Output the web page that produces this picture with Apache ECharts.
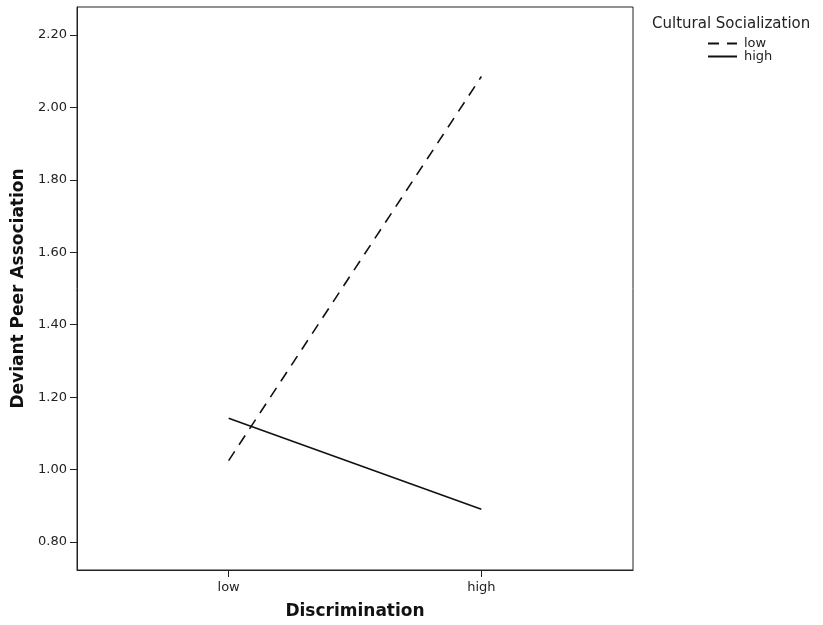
<!DOCTYPE html>
<html>
<head>
<meta charset="utf-8">
<script src="https://cdn.jsdelivr.net/npm/echarts@6/dist/echarts.min.js"></script>
<style>
html,body{margin:0;padding:0;background:#fff;}
#chart{width:823px;height:625px;}
</style>
</head>
<body>
<div id="chart"></div>
<script>
const categories = ['low', 'high'];
const seriesNames = ['low', 'high'];
const lowSocialization = [1.025, 2.085];
const highSocialization = [1.142, 0.891];
const yTicks = [0.80, 1.00, 1.20, 1.40, 1.60, 1.80, 2.00, 2.20];

const chart = echarts.init(document.getElementById('chart'));
const toPoints = arr => arr.map((v, i) => [i, v]);
const font = '"DejaVu Sans", "Liberation Sans", sans-serif';

chart.setOption({
  animation: false,
  title: {
    text: 'Cultural Socialization',
    left: 647, top: 12,
    textStyle: { fontFamily: font, fontSize: 15, fontWeight: 'normal', color: '#222' }
  },
  legend: {
    orient: 'vertical',
    left: 702, top: 32,
    itemWidth: 29, itemHeight: 10, itemGap: 0,
    data: seriesNames,
    itemStyle: { opacity: 0 },
    textStyle: { fontFamily: font, fontSize: 13, lineHeight: 12, color: '#222', padding: [0, 0, 0, 2] }
  },
  grid: {
    left: 77, right: 190, top: 7, bottom: 54,
    show: true, borderColor: '#222', borderWidth: 1
  },
  xAxis: {
    type: 'value',
    min: -0.6, max: 1.6,
    name: 'Discrimination',
    nameLocation: 'middle', nameGap: 33,
    nameTextStyle: { fontFamily: font, fontSize: 17, fontWeight: 'bold', color: '#111' },
    axisLine: { show: true, onZero: false, lineStyle: { color: '#222' } },
    splitLine: { show: false },
    axisTick: { show: true, customValues: [0, 1], length: 7, lineStyle: { color: '#222' } },
    axisLabel: {
      customValues: [0, 1], margin: 11,
      fontFamily: font, fontSize: 13, color: '#222',
      formatter: v => categories[Math.round(v)]
    }
  },
  yAxis: {
    type: 'value',
    min: 0.723, max: 2.277,
    name: 'Deviant Peer Association',
    nameLocation: 'middle', nameGap: 48, nameRotate: 90,
    nameTextStyle: { fontFamily: font, fontSize: 17, fontWeight: 'bold', color: '#111' },
    axisLine: { show: true, onZero: false, lineStyle: { color: '#222' } },
    splitLine: { show: false },
    axisTick: { show: true, customValues: yTicks, length: 7, lineStyle: { color: '#222' } },
    axisLabel: {
      customValues: yTicks, margin: 10,
      fontFamily: font, fontSize: 13, color: '#222',
      formatter: v => v.toFixed(2)
    }
  },
  series: [
    {
      name: seriesNames[0], type: 'line',
      data: toPoints(lowSocialization),
      symbol: 'none',
      lineStyle: { color: '#111', width: 1.6, type: [11, 8] },
      itemStyle: { color: '#111' }
    },
    {
      name: seriesNames[1], type: 'line',
      data: toPoints(highSocialization),
      symbol: 'none',
      lineStyle: { color: '#111', width: 1.6, type: 'solid' },
      itemStyle: { color: '#111' }
    }
  ]
});
</script>
</body>
</html>
